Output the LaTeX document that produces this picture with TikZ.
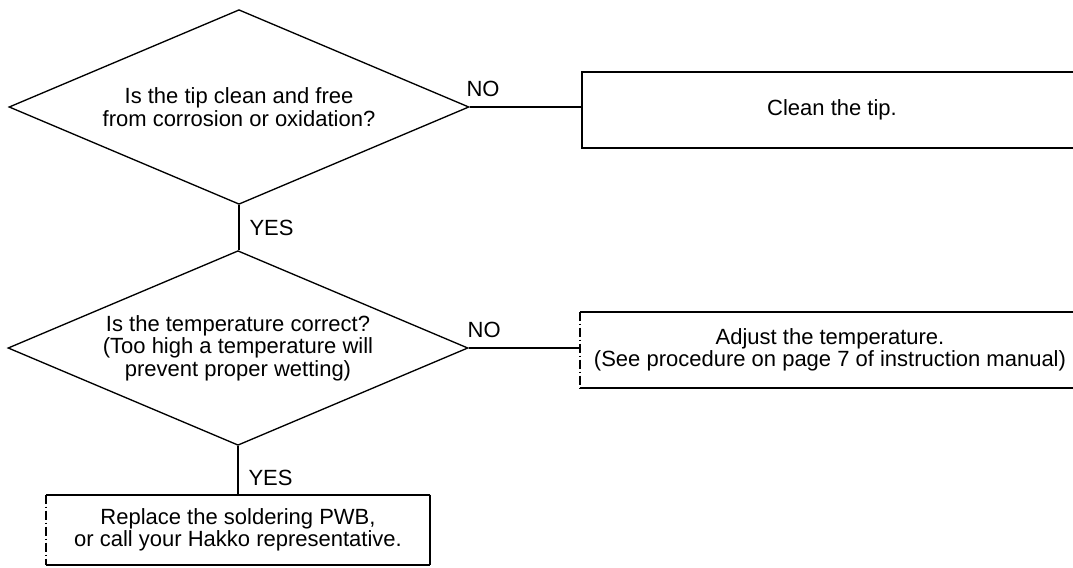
\documentclass[tikz,border=0pt]{standalone}
\usepackage{fontspec}
\setmainfont{Liberation Sans}
\usetikzlibrary{shapes.geometric}
\newcommand{\leftdashbox}[1]{
	\draw[frame] (#1.north east) -- (#1.north west);
	\draw[frame] (#1.south west) -- (#1.south east);
	\draw[frame, dash pattern=on 7pt off 2pt on 1pt off 2pt] (#1.north west) -- (#1.south west);
	}
\begin{document}
\begin{tikzpicture}[x=0.75pt, y=-0.75pt,
	every node/.style={font=\fontsize{16.5}{16.8}\selectfont},
	question/.style={diamond, draw, line width=1pt, aspect=2.37, inner sep=0pt,
		minimum width=345pt, minimum height=146pt, align=center},
	action/.style={rectangle, align=center, minimum height=57pt},
	frame/.style={line width=1.5pt},
	link/.style={line width=1.1pt}]

	\useasboundingbox (0,0) rectangle (1073,567);

	% two questions
	\node[question] (tip) at (239,107) {Is the tip clean and free\\from corrosion or oxidation?};
	\node[question] (temp) at (238,348) {Is the temperature correct?\\(Too high a temperature will\\prevent proper wetting)};

	% three actions
	\node[action, draw, frame, minimum width=375pt] (clean) at (832,110) {Clean the tip.};
	\node[action, minimum width=375pt] (adjust) at (830,350) {Adjust the temperature.\\(See procedure on page 7 of instruction manual)};
	\node[action, minimum width=287pt, minimum height=52.5pt] (replace) at (238,530) {Replace the soldering PWB,\\or call your Hakko representative.};
	\leftdashbox{adjust}
	\leftdashbox{replace}
	\draw[frame] (replace.north east) -- (replace.south east);

	% answers
	\draw[link] (tip.east) -- node[pos=0.12, above=4pt] (tipno) {NO} (tip.east -| clean.west);
	\draw[link] (tip.south) -- node[midway, right=4pt] (tipyes) {YES} (tip.south |- temp.north);
	\draw[link] (temp.east) -- node[pos=0.14, above=4pt] (tempno) {NO} (temp.east -| adjust.west);
	\draw[link] (temp.south) -- node[pos=0.65, right=4pt] (tempyes) {YES} (temp.south |- replace.north);

\end{tikzpicture}
\end{document}
